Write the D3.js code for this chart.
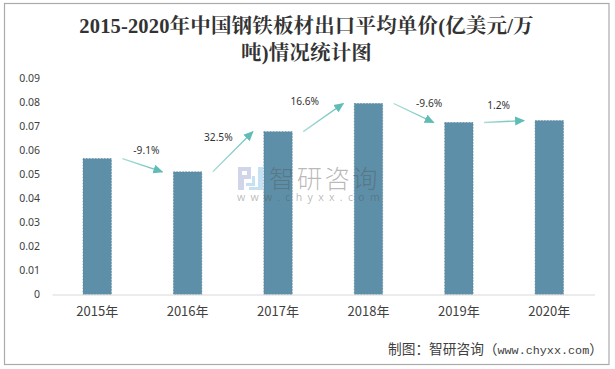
<!DOCTYPE html>
<html>
<head>
<meta charset="utf-8">
<script src="https://cdn.jsdelivr.net/npm/d3@7"></script>
<style>
  html, body { margin: 0; padding: 0; background: #fff; }
  svg { display: block; }
</style>
</head>
<body>
<svg id="chart" width="615" height="369"></svg>
<script>
const years = ["2015年", "2016年", "2017年", "2018年", "2019年", "2020年"];
const prices = [0.0565, 0.051, 0.0677, 0.0794, 0.0715, 0.0723];
const growth = ["-9.1%", "32.5%", "16.6%", "-9.6%", "1.2%"];
const yTicks = [0, 0.01, 0.02, 0.03, 0.04, 0.05, 0.06, 0.07, 0.08, 0.09];
const titleLines = ["2015-2020年中国钢铁板材出口平均单价(亿美元/万", "吨)情况统计图"];

const margin = { top: 78, right: 20, bottom: 74.5, left: 51 };
const width = 615 - margin.left - margin.right;
const height = 369 - margin.top - margin.bottom;
const sansFont = "'Noto Sans', 'Noto Sans CJK SC', sans-serif";
const arrowColor = "#5fbdb5";

const root = d3.select("#chart");
const defs = root.append("defs");

// outer frame
root.append("rect")
  .attr("x", 4.5).attr("y", 3.5)
  .attr("width", 604.5).attr("height", 361)
  .attr("fill", "#fff")
  .attr("stroke", "#ababab")
  .attr("stroke-width", 1.2);

// title
root.append("g").selectAll("text")
  .data(titleLines)
  .enter()
  .append("text")
  .attr("x", 306.5)
  .attr("y", (d, i) => 33 + i * 26.5)
  .attr("text-anchor", "middle")
  .attr("font-family", "'Liberation Serif', 'Noto Serif CJK SC', 'Noto Sans CJK SC', serif")
  .attr("font-size", 20.5)
  .attr("font-weight", "bold")
  .attr("letter-spacing", 0.16)
  .attr("fill", "#333")
  .text(d => d);

const svg = root.append("g")
  .attr("transform", `translate(${margin.left},${margin.top})`);

const x = d3.scaleBand()
  .domain(years)
  .range([1, 543.5])
  .paddingInner(0.686)
  .paddingOuter(0.343);

const y = d3.scaleLinear()
  .domain([0, 0.09])
  .range([height, 0]);

svg.selectAll("rect.bar")
  .data(years)
  .enter()
  .append("rect")
  .attr("class", "bar")
  .attr("x", d => x(d))
  .attr("y", (d, i) => y(prices[i]))
  .attr("width", x.bandwidth())
  .attr("height", (d, i) => height - y(prices[i]))
  .attr("fill", "#5d8fa8")
  .attr("stroke", "#4a7a94")
  .attr("stroke-width", 0.6)
  .attr("stroke-dasharray", "1.5,1.5");

// y axis, labels only
const yAxis = svg.append("g")
  .call(d3.axisLeft(y).tickValues(yTicks).tickSize(0).tickPadding(11).tickFormat(d => d === 0 ? "0" : d3.format(".2f")(d)));
yAxis.select(".domain").remove();
yAxis.selectAll("text")
  .attr("font-family", sansFont)
  .attr("font-size", 10.5)
  .attr("fill", "#404040");

// x axis
const xAxis = svg.append("g")
  .attr("transform", `translate(0,${height})`)
  .call(d3.axisBottom(x).tickSize(0).tickSizeOuter(0).tickPadding(12.5));
xAxis.select(".domain").attr("stroke", "#d9d9d9").attr("stroke-width", 1);
xAxis.selectAll("text")
  .attr("font-family", "'Noto Sans CJK SC', sans-serif")
  .attr("font-size", 13)
  .attr("fill", "#404040");

// arrow head
defs.append("marker")
  .attr("id", "head")
  .attr("markerUnits", "userSpaceOnUse")
  .attr("viewBox", "0 0 10 10")
  .attr("refX", 9)
  .attr("refY", 5)
  .attr("markerWidth", 10)
  .attr("markerHeight", 10)
  .attr("orient", "auto")
  .append("path")
  .attr("d", "M0,0.5L10,5L0,9.5Z")
  .attr("fill", arrowColor);

// growth arrows run from one bar's top to the next
const arrows = growth.map((label, i) => ({
  label,
  x1: x(years[i]) + x.bandwidth() + 11,
  y1: y(prices[i]),
  x2: x(years[i + 1]) - 11,
  y2: y(prices[i + 1])
}));

arrows.forEach((a, i) => {
  const grad = defs.append("linearGradient")
    .attr("id", `arrow${i}`)
    .attr("gradientUnits", "userSpaceOnUse")
    .attr("x1", a.x1).attr("y1", a.y1)
    .attr("x2", a.x2).attr("y2", a.y2);
  grad.append("stop").attr("offset", 0).attr("stop-color", "#a9dcd7");
  grad.append("stop").attr("offset", 1).attr("stop-color", arrowColor);
});

svg.selectAll("line.arrow")
  .data(arrows)
  .enter()
  .append("line")
  .attr("class", "arrow")
  .attr("x1", d => d.x1)
  .attr("y1", d => d.y1)
  .attr("x2", d => d.x2)
  .attr("y2", d => d.y2)
  .attr("stroke", (d, i) => `url(#arrow${i})`)
  .attr("stroke-width", 1.3)
  .attr("marker-end", "url(#head)");

// label offsets from each arrow's midpoint
const labelDx = [4, -14.5, -18.5, 15.5, -5.5];
const labelDy = [-15, -14.5, -16, -9.5, -16];

svg.selectAll("text.growth")
  .data(arrows)
  .enter()
  .append("text")
  .attr("class", "growth")
  .attr("x", (d, i) => (d.x1 + d.x2) / 2 + labelDx[i])
  .attr("y", (d, i) => (d.y1 + d.y2) / 2 + labelDy[i])
  .attr("dy", "0.35em")
  .attr("text-anchor", "middle")
  .attr("font-family", sansFont)
  .attr("font-size", 10.2)
  .attr("fill", "#333")
  .text(d => d.label);

// watermark
const mark = root.append("g").attr("pointer-events", "none");
mark.append("path")
  .attr("d", "M238,167H251V179H244V190H238ZM242,171V175H247V171Z")
  .attr("fill", "#c5cbe3").attr("fill-opacity", 0.8).attr("fill-rule", "evenodd");
mark.append("path")
  .attr("d", "M246,183H252V176H255V186H246ZM258,167H263V190H249V187H258Z")
  .attr("fill", "#bcdcf0").attr("fill-opacity", 0.85);
mark.append("text")
  .attr("x", 269).attr("y", 188)
  .attr("font-family", "'Noto Sans CJK SC', sans-serif")
  .attr("font-size", 25.5)
  .attr("font-weight", 300)
  .attr("letter-spacing", 2.2)
  .attr("fill", "#555").attr("fill-opacity", 0.42)
  .text("智研咨询");
mark.append("text")
  .attr("x", 237).attr("y", 201)
  .attr("font-family", "'Noto Sans', sans-serif")
  .attr("font-size", 10.5)
  .attr("letter-spacing", 5.3)
  .attr("fill", "#555").attr("fill-opacity", 0.4)
  .text("www.chyxx.com");

// source note, full-width punctuation as in the original
const note = root.append("text")
  .attr("x", 388).attr("y", 354)
  .attr("font-family", "'Noto Sans CJK SC', sans-serif")
  .attr("font-size", 13.7)
  .attr("fill", "#404040");
note.append("tspan").text("制图\uFF1A智研咨询\uFF08");
note.append("tspan")
  .attr("font-family", "'Liberation Mono', monospace")
  .attr("font-size", 11.75)
  .text("www.chyxx.com");
note.append("tspan").text("\uFF09");
</script>
</body>
</html>
